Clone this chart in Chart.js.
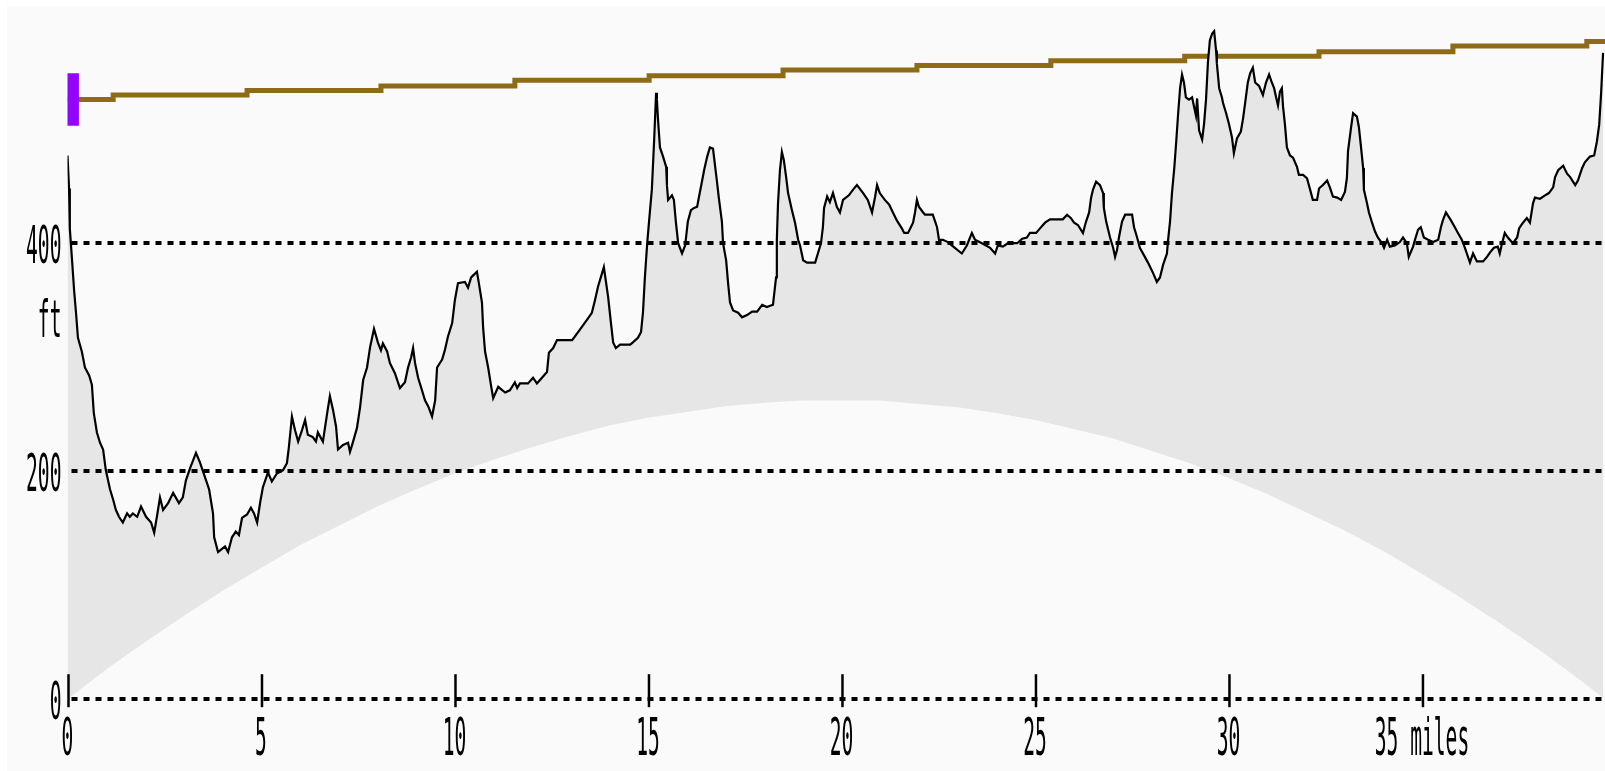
<!DOCTYPE html>
<html>
<head>
<meta charset="utf-8">
<title>Elevation profile</title>
<script src="https://cdn.jsdelivr.net/npm/chart.js@4.4.1/dist/chart.umd.min.js"></script>
<style>
    html, body { margin: 0; padding: 0; background: #fff; }
    #wrap { position: absolute; left: 7px; top: 6px; width: 1598px; height: 765px; }
</style>
</head>
<body>
<div id="wrap"><canvas id="profile" width="1598" height="765"></canvas></div>
<script>
// terrain profile, [miles, feet]
const profile = [
    [0,477],[0.04,448],[0.06,413],[0.12,384],[0.17,359],[0.22,339],[0.27,317],[0.37,305],[0.45,291],[0.56,284],
    [0.63,276],[0.68,251],[0.76,234],[0.84,225],[0.92,219],[0.99,201],[1.10,184],[1.18,175],[1.25,166],[1.33,160],
    [1.43,155],[1.54,163],[1.61,160],[1.69,163],[1.80,160],[1.90,169],[2.03,160],[2.16,155],[2.24,146],[2.31,160],
    [2.39,177],[2.47,166],[2.60,172],[2.73,181],[2.88,172],[2.98,177],[3.06,192],[3.17,203],[3.32,216],[3.42,208],
    [3.55,195],[3.66,184],[3.76,163],[3.79,142],[3.89,129],[4.07,134],[4.15,129],[4.25,142],[4.35,147],[4.43,144],
    [4.51,159],[4.64,162],[4.74,168],[4.82,163],[4.90,155],[4.98,173],[5.05,186],[5.18,199],[5.28,191],[5.41,198],
    [5.57,201],[5.67,207],[5.72,221],[5.80,248],[5.88,236],[5.96,226],[6.06,236],[6.14,245],[6.21,232],[6.34,230],
    [6.42,226],[6.47,234],[6.60,226],[6.71,251],[6.78,266],[6.86,254],[6.94,239],[6.99,219],[7.12,223],[7.25,225],
    [7.30,217],[7.38,226],[7.48,238],[7.56,256],[7.64,280],[7.74,291],[7.82,309],[7.92,325],[8.02,313],[8.10,306],
    [8.15,312],[8.26,305],[8.33,295],[8.46,286],[8.59,273],[8.72,278],[8.80,291],[8.88,300],[8.93,308],[8.98,295],
    [9.06,282],[9.16,271],[9.24,262],[9.32,257],[9.42,248],[9.50,262],[9.55,291],[9.68,298],[9.75,306],[9.83,318],
    [9.94,330],[10.01,350],[10.09,365],[10.27,366],[10.35,361],[10.43,370],[10.58,375],[10.63,365],[10.71,348],[10.74,326],
    [10.79,305],[10.87,291],[10.95,274],[11.00,264],[11.13,274],[11.31,269],[11.43,271],[11.56,278],[11.62,273],[11.69,277],
    [11.90,277],[12.03,282],[12.13,277],[12.26,282],[12.39,287],[12.44,304],[12.55,308],[12.65,315],[13.04,315],[13.17,321],
    [13.32,328],[13.45,334],[13.55,339],[13.63,350],[13.71,362],[13.86,379],[13.97,353],[14.04,331],[14.10,313],[14.17,308],
    [14.28,311],[14.54,311],[14.61,313],[14.74,317],[14.82,322],[14.87,339],[14.92,370],[14.98,400],[15.03,420],[15.10,447],
    [15.16,491],[15.21,532],[15.23,526],[15.26,508],[15.31,484],[15.39,476],[15.47,467],[15.49,451],[15.52,438],[15.62,442],
    [15.67,438],[15.72,419],[15.78,400],[15.88,391],[15.96,398],[16.03,419],[16.11,429],[16.19,431],[16.27,432],[16.32,441],
    [16.40,455],[16.45,464],[16.53,476],[16.60,484],[16.68,483],[16.78,455],[16.83,440],[16.91,419],[16.94,400],[17.02,385],
    [17.07,365],[17.12,348],[17.20,341],[17.33,339],[17.43,335],[17.56,337],[17.69,340],[17.82,340],[17.95,346],[18.07,344],
    [18.23,346],[18.31,370],[18.33,403],[18.36,435],[18.41,464],[18.46,480],[18.51,473],[18.57,458],[18.62,444],[18.72,429],
    [18.80,418],[18.88,403],[18.93,398],[19.01,385],[19.11,383],[19.32,383],[19.39,391],[19.47,400],[19.52,414],[19.55,431],
    [19.63,441],[19.70,436],[19.78,444],[19.88,432],[19.96,427],[20.04,438],[20.19,442],[20.30,447],[20.40,451],[20.56,444],
    [20.68,438],[20.79,427],[20.87,441],[20.92,451],[20.99,444],[21.12,438],[21.23,434],[21.33,427],[21.43,420],[21.56,413],
    [21.62,409],[21.72,409],[21.85,418],[21.90,427],[21.95,438],[22.00,432],[22.11,427],[22.16,425],[22.36,425],[22.47,414],
    [22.52,403],[22.62,403],[22.75,401],[22.93,396],[23.11,391],[23.24,398],[23.37,409],[23.45,403],[23.63,400],[23.84,396],
    [23.97,391],[24.04,398],[24.17,397],[24.30,400],[24.54,400],[24.67,404],[24.79,405],[24.87,409],[25.03,409],[25.13,413],
    [25.26,418],[25.39,421],[25.72,421],[25.83,425],[25.93,422],[26.01,418],[26.11,416],[26.24,409],[26.32,419],[26.40,427],
    [26.45,440],[26.50,447],[26.58,454],[26.68,451],[26.76,444],[26.78,431],[26.84,419],[26.89,412],[26.94,405],[27.02,396],
    [27.07,388],[27.12,394],[27.17,405],[27.25,419],[27.33,425],[27.51,425],[27.56,414],[27.64,405],[27.71,396],[27.84,388],
    [27.92,383],[28.05,374],[28.15,366],[28.23,370],[28.31,381],[28.41,391],[28.44,403],[28.49,419],[28.54,444],[28.60,466],
    [28.65,489],[28.70,514],[28.75,536],[28.80,548],[28.85,541],[28.90,528],[28.98,526],[29.06,528],[29.11,520],[29.16,512],
    [29.19,527],[29.24,499],[29.32,491],[29.37,505],[29.42,526],[29.47,559],[29.52,578],[29.58,584],[29.63,586],[29.68,569],
    [29.70,558],[29.76,536],[29.83,528],[29.86,523],[29.94,514],[30.01,505],[30.09,493],[30.14,479],[30.22,492],[30.32,498],
    [30.38,510],[30.45,528],[30.50,541],[30.56,549],[30.63,554],[30.69,541],[30.79,538],[30.89,530],[30.97,541],[31.05,548],
    [31.12,541],[31.18,536],[31.23,528],[31.28,521],[31.33,533],[31.38,536],[31.41,520],[31.46,504],[31.51,484],[31.59,477],
    [31.67,475],[31.77,467],[31.82,460],[31.93,460],[32.03,457],[32.11,447],[32.18,438],[32.29,438],[32.34,448],[32.44,451],
    [32.55,455],[32.62,449],[32.70,441],[32.81,440],[32.91,438],[33.01,445],[33.06,457],[33.09,481],[33.17,502],[33.22,514],
    [33.32,511],[33.37,502],[33.42,486],[33.48,466],[33.50,447],[33.58,435],[33.63,427],[33.71,418],[33.79,410],[33.86,405],
    [33.97,400],[34.02,396],[34.10,403],[34.17,397],[34.30,398],[34.43,401],[34.51,405],[34.61,400],[34.66,388],[34.77,397],
    [34.82,403],[34.90,412],[34.97,414],[35.05,405],[35.16,403],[35.29,401],[35.42,403],[35.49,414],[35.54,420],[35.62,427],
    [35.75,420],[35.85,414],[35.93,409],[36.03,403],[36.11,396],[36.19,388],[36.24,383],[36.32,391],[36.42,384],[36.58,384],
    [36.68,388],[36.76,392],[36.86,396],[36.96,397],[37.01,391],[37.07,400],[37.14,409],[37.22,405],[37.35,400],[37.46,405],
    [37.51,413],[37.61,418],[37.71,422],[37.79,418],[37.87,435],[37.92,440],[38.05,439],[38.18,442],[38.28,444],[38.39,449],
    [38.44,458],[38.52,464],[38.65,468],[38.75,461],[38.83,458],[38.96,451],[39.03,455],[39.14,466],[39.21,471],[39.34,476],
    [39.45,477],[39.52,489],[39.58,504],[39.63,532],[39.68,567]
];

// earth bulge under the path
const curveMiles = [0, 1, 2, 3, 4, 5, 6, 7, 8, 9, 10, 11, 12, 13, 14, 15, 16, 17, 18, 19, 20,
                    21, 22, 23, 24, 25, 26, 27, 28, 29, 30, 31, 32, 33, 34, 35, 36, 37, 38, 39, 39.73];
const curveFeet  = [0, 26, 50, 73, 95, 115, 135, 152, 169, 184, 198, 210, 221, 231, 240, 247, 252, 257, 260, 262, 262,
                    262, 259, 256, 251, 245, 237, 229, 218, 207, 194, 180, 164, 148, 130, 110, 89, 67, 44, 19, 0];

// stepped sight line
const sightMiles = [0, 1.18, 4.64, 8.10, 11.56, 15.03, 18.49, 21.95, 25.41, 28.87, 32.34, 35.80, 39.26, 39.73];
const sightFeet  = [526, 530, 534, 538, 543, 547, 552, 556, 560, 564, 568, 573, 577, 577];

// observer marker
const observerMiles = 0.14;
const observerFeet = [503, 549];

const xTickValues = [0, 5, 10, 15, 20, 25, 30, 35];
const xTickLabels = ['0', '5', '10', '15', '20', '25', '30', '35 miles'];
const yTickValues = [0, 200, 400];
const yTickLabels = ['0', '200', '400'];
const yUnit = 'ft';

const NARROW = 0.385;

function narrowText(ctx, text, x, y, align) {
    ctx.save();
    ctx.translate(x, y);
    ctx.scale(NARROW, 1);
    ctx.textAlign = align;
    ctx.fillText(text, 0, 0);
    ctx.restore();
}

const profileFrame = {
    id: 'profileFrame',
    beforeDraw(chart) {
        const { ctx, width, height } = chart;
        ctx.save();
        ctx.fillStyle = '#fafafa';
        ctx.fillRect(0, 0, width, height);
        ctx.restore();
    },
    afterDraw(chart) {
        const { ctx, chartArea } = chart;
        const { x, y } = chart.scales;
        ctx.save();
        ctx.fillStyle = '#000';
        ctx.strokeStyle = '#000';
        ctx.lineWidth = 2.5;
        ctx.font = '51px "DejaVu Sans Mono"';
        ctx.textBaseline = 'alphabetic';

        xTickValues.forEach((v, i) => {
            const px = x.getPixelForValue(v) + 1;
            ctx.beginPath();
            ctx.moveTo(px, chartArea.bottom - 25);
            ctx.lineTo(px, chartArea.bottom + 8);
            ctx.stroke();
            narrowText(ctx, xTickLabels[i], px - 1, chartArea.bottom + 55.4, 'center');
        });

        yTickValues.forEach((v, i) => {
            narrowText(ctx, yTickLabels[i], chartArea.left - 6, y.getPixelForValue(v) + 20, 'right');
        });
        narrowText(ctx, yUnit, chartArea.left - 6, y.getPixelForValue(334) + 18.6, 'right');
        ctx.restore();
    }
};

new Chart(document.getElementById('profile'), {
    type: 'line',
    data: {
        datasets: [
            {
                label: 'observer',
                data: observerFeet.map(f => ({ x: observerMiles, y: f })),
                borderColor: '#9405ff',
                borderWidth: 12,
                borderCapStyle: 'butt',
                pointRadius: 0,
                fill: false
            },
            {
                label: 'terrain',
                data: profile.map(([m, f]) => ({ x: m, y: f })),
                borderColor: '#000',
                borderWidth: 2.2,
                backgroundColor: '#e6e6e6',
                pointRadius: 0,
                tension: 0,
                fill: { target: 3 }
            },
            {
                label: 'sight line',
                data: sightMiles.map((m, i) => ({ x: m, y: sightFeet[i] })),
                borderColor: '#8d6b17',
                borderWidth: 5,
                borderCapStyle: 'butt',
                stepped: 'before',
                pointRadius: 0,
                fill: false
            },
            {
                label: 'earth curve',
                data: curveMiles.map((m, i) => ({ x: m, y: curveFeet[i] })),
                borderColor: 'rgba(0,0,0,0)',
                borderWidth: 0,
                pointRadius: 0,
                fill: false
            }
        ]
    },
    options: {
        responsive: false,
        animation: false,
        events: [],
        layout: { padding: { left: 60.5, right: 0, top: 0, bottom: 71.8 } },
        plugins: {
            legend: { display: false },
            tooltip: { enabled: false }
        },
        scales: {
            x: { type: 'linear', min: 0, max: 39.73, display: false },
            y: {
                type: 'linear',
                min: 0,
                max: 608.1,
                afterBuildTicks: (scale) => {
                    scale.ticks = yTickValues.map(v => ({ value: v }));
                },
                ticks: { display: false },
                grid: { color: '#000', lineWidth: 4, drawTicks: false, z: 1 },
                border: { display: false, dash: [6, 6], dashOffset: 8.5 }
            }
        }
    },
    plugins: [profileFrame]
});
</script>
</body>
</html>
